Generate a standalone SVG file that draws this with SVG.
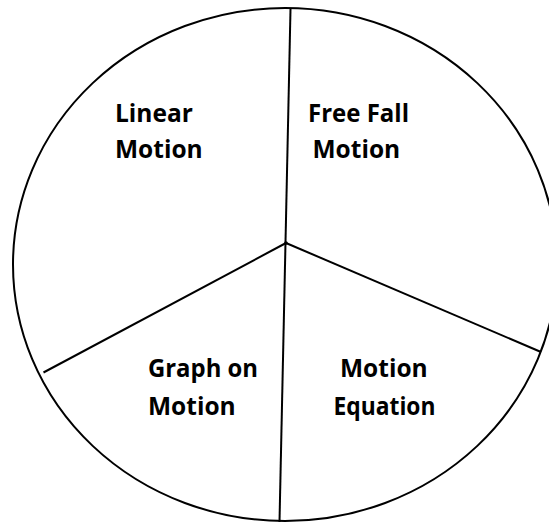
<svg xmlns="http://www.w3.org/2000/svg" width="549" height="522" viewBox="0 0 549 522">
<style>
.ln{stroke:#000;stroke-width:2;fill:none;stroke-linecap:butt}
.lbl{font-family:"Open Sans","Liberation Sans",sans-serif;font-weight:bold;font-size:24.5px;fill:#000}
</style>
<rect width="549" height="522" fill="#fff"/>
<g id="wheel">
<ellipse class="ln" cx="285" cy="264.5" rx="272" ry="256.5"/>
</g>
<g id="connectors">
<line class="ln" x1="290.5" y1="9" x2="279.5" y2="522"/>
<line class="ln" x1="286" y1="243" x2="43.5" y2="372.5"/>
<line class="ln" x1="286" y1="243" x2="541" y2="352"/>
<circle cx="286" cy="243" r="1.8" fill="#000"/>
</g>
<g id="linear-motion">
<text class="lbl" x="115" y="121.5">Linear</text>
<text class="lbl" x="115" y="158">Motion</text>
</g>
<g id="free-fall-motion">
<text class="lbl" x="308" y="121.5" textLength="101" lengthAdjust="spacingAndGlyphs">Free Fall</text>
<text class="lbl" x="312.5" y="158">Motion</text>
</g>
<g id="graph-on-motion">
<text class="lbl" x="148" y="377" textLength="110" lengthAdjust="spacingAndGlyphs">Graph on</text>
<text class="lbl" x="148" y="415">Motion</text>
</g>
<g id="motion-equation">
<text class="lbl" x="340" y="377">Motion</text>
<text class="lbl" x="333.5" y="415" textLength="102" lengthAdjust="spacingAndGlyphs">Equation</text>
</g>
</svg>
